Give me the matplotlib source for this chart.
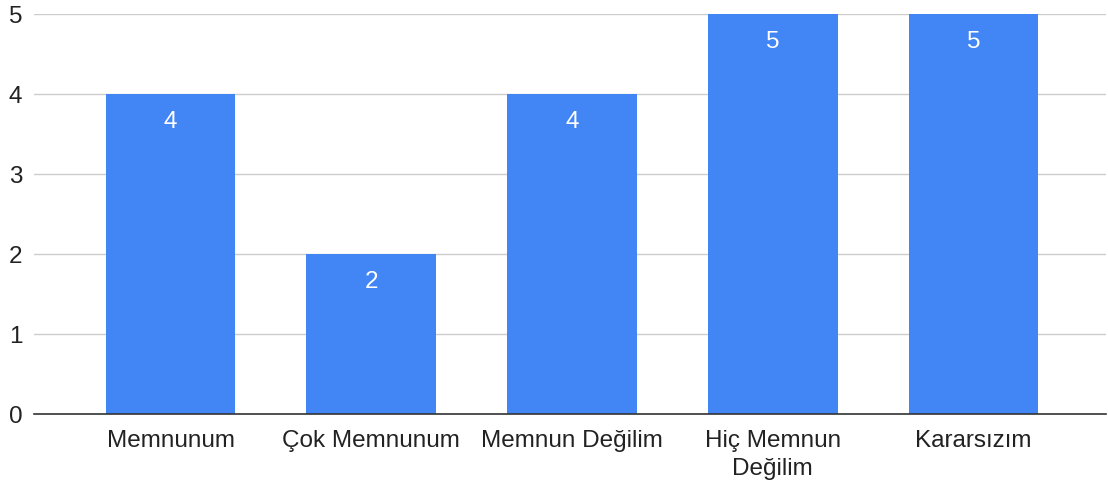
import matplotlib.pyplot as plt

# Survey answers and counts
categories = ["Memnunum", "Çok Memnunum", "Memnun Değilim", "Hiç Memnun\nDeğilim", "Kararsızım"]
counts = [4, 2, 4, 5, 5]
yticks = [0, 1, 2, 3, 4, 5]

plt.rcParams['font.family'] = ['Liberation Sans', 'DejaVu Sans']
FS = 17.5

fig = plt.figure(figsize=(11.08, 4.89), dpi=100)
ax = fig.add_axes([34 / 1108, 1 - 415 / 489, (1106 - 34) / 1108, 400 / 489])

x = list(range(len(categories)))
bars = ax.bar(x, counts, width=0.647, color='#4285F4', zorder=3)

for rect, v in zip(bars, counts):
    ax.annotate(str(v), (rect.get_x() + rect.get_width() / 2, v),
                xytext=(0, -27), textcoords='offset pixels',
                ha='center', va='center', color='white', fontsize=FS, zorder=4)

ax.set_xlim(-0.68, 4.66)
ax.set_ylim(0, 5)
ax.set_yticks(yticks)
ax.set_xticks(x)
ax.set_xticklabels(categories, fontsize=FS, color='#222222', linespacing=1.32)
ax.tick_params(axis='y', labelsize=FS, labelcolor='#222222', length=0, pad=8.5)
ax.tick_params(axis='x', length=0, pad=11)

ax.grid(axis='y', color='#cccccc', linewidth=1, zorder=0)
for s in ['top', 'right', 'left']:
    ax.spines[s].set_visible(False)
ax.spines['bottom'].set_color('#333333')
ax.spines['bottom'].set_linewidth(1.2)
ax.spines['bottom'].set_zorder(5)

fig.savefig('out.png', dpi=100)
